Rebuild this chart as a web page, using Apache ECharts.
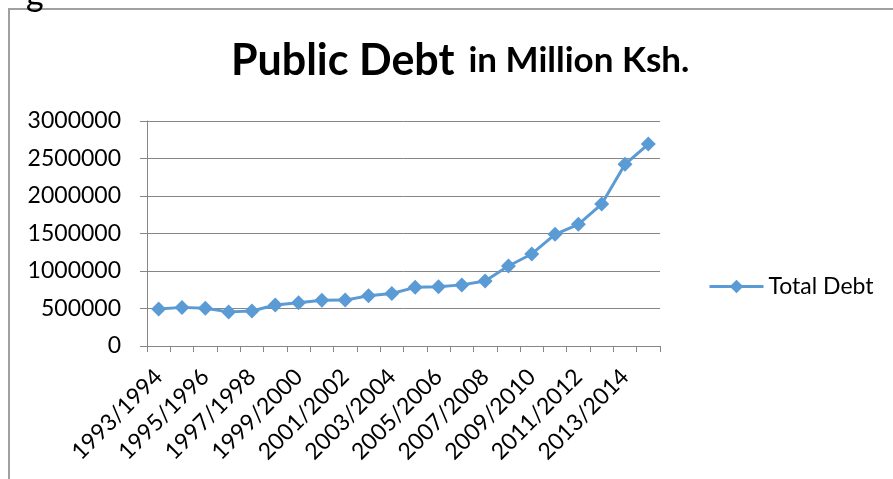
<!DOCTYPE html>
<html>
<head>
<meta charset="utf-8">
<script src="https://cdn.jsdelivr.net/npm/echarts@6/dist/echarts.min.js"></script>
<style>html,body{margin:0;padding:0;background:#fff;}#c{width:893px;height:479px;}</style>
</head>
<body>
<div id="c"></div>
<script>
const categories = ["1993/1994","1994/1995","1995/1996","1996/1997","1997/1998","1998/1999","1999/2000","2000/2001","2001/2002","2002/2003","2003/2004","2004/2005","2005/2006","2006/2007","2007/2008","2008/2009","2009/2010","2010/2011","2011/2012","2012/2013","2013/2014","2014/2015"];
const totalDebt = [493000, 515000, 502000, 455000, 467000, 547000, 578000, 609000, 612000, 671000, 700000, 782000, 791000, 815000, 867000, 1067000, 1227000, 1489000, 1622000, 1893000, 2422000, 2693000];
const yTicks = { min: 0, max: 3000000, interval: 500000 };

const chart = echarts.init(document.getElementById('c'), null, { renderer: 'canvas' });
const font = 'Lato, "Open Sans", sans-serif';
chart.setOption({
  animation: false,
  backgroundColor: '#ffffff',
  title: {
    text: '{a|Public Debt}{b|in Million Ksh.}',
    left: 226,
    top: 30,
    textStyle: {
      rich: {
        a: { fontFamily: font, fontWeight: 'bold', fontSize: 43, color: '#000', lineHeight: 52 },
        b: { fontFamily: font, fontWeight: 'bold', fontSize: 35, color: '#000', lineHeight: 52, padding: [0, 0, 0, 14] }
      }
    }
  },
  graphic: [
    { type: 'rect', shape: { x: 9, y: 9, width: 1000, height: 600 }, style: { fill: 'none', stroke: '#a0a0a0', lineWidth: 2 }, silent: true },
    { type: 'text', left: 26, top: -22, style: { text: 'g', font: '34px Lato', fill: '#000' } }
  ],
  legend: {
    left: 708,
    top: 275,
    padding: 0,
    orient: 'vertical',
    itemWidth: 54,
    itemHeight: 17,
    itemGap: 6,
    lineStyle: { width: 3 },
    textStyle: { fontFamily: font, fontSize: 23, color: '#000' },
    data: ['Total Debt']
  },
  grid: { left: 147, right: 233, top: 121, bottom: 133 },
  xAxis: {
    type: 'category',
    data: categories,
    boundaryGap: true,
    axisLine: { lineStyle: { color: '#868686', width: 1 } },
    axisTick: { show: true, length: 6, interval: 0, lineStyle: { color: '#868686' } },
    axisLabel: { interval: 1, rotate: 45, fontFamily: font, fontSize: 23, color: '#000', margin: 27, padding: [11, 0, 0, 0] }
  },
  yAxis: {
    type: 'value',
    min: yTicks.min,
    max: yTicks.max,
    interval: yTicks.interval,
    axisLine: { show: true, lineStyle: { color: '#868686', width: 1 } },
    axisTick: { show: true, length: 7, lineStyle: { color: '#868686' } },
    splitLine: { show: true, lineStyle: { color: '#868686', width: 1 } },
    axisLabel: { fontFamily: font, fontSize: 23, color: '#000', margin: 26, formatter: v => String(v) }
  },
  series: [{
    name: 'Total Debt',
    type: 'line',
    data: totalDebt,
    symbol: 'diamond',
    symbolSize: 15,
    lineStyle: { color: '#5b9bd5', width: 3 },
    itemStyle: { color: '#5b9bd5' }
  }]
});
</script>
</body>
</html>
